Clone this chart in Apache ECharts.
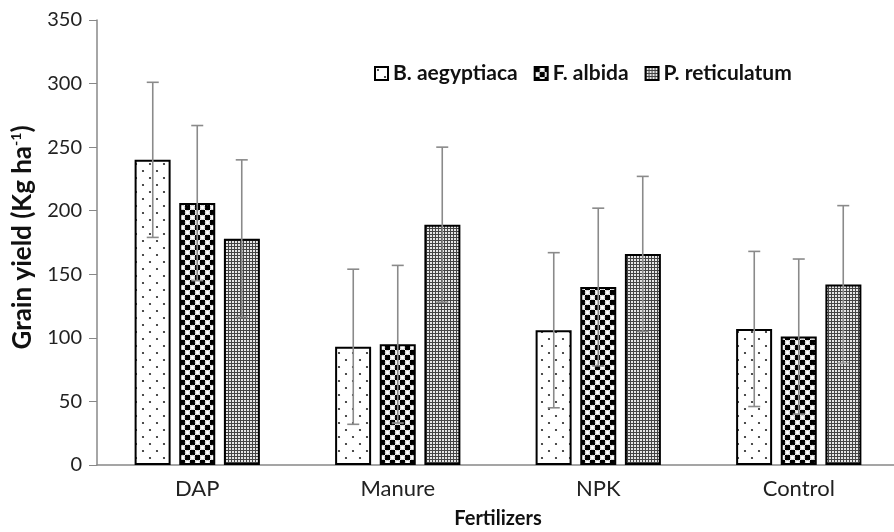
<!DOCTYPE html>
<html><head><meta charset="utf-8">
<script src="https://cdn.jsdelivr.net/npm/echarts@6/dist/echarts.min.js"></script>
<style>html,body{margin:0;padding:0;background:#fff}#c{width:894px;height:532px}</style>
</head><body><div id="c"></div>
<script>
const categories = ['DAP', 'Manure', 'NPK', 'Control'];
const seriesNames = ['B. aegyptiaca', 'F. albida', 'P. reticulatum'];
const bAegyptiaca = [240, 93, 106, 107];
const fAlbida = [206, 95, 140, 101];
const pReticulatum = [178, 189, 166, 142];
const errB = [61, 61, 61, 61];
const errF = [61, 62, 62, 61];
const errP = [62, 61, 61, 62];
const yTicks = [0, 50, 100, 150, 200, 250, 300, 350];

function makePattern(kind) {
  const c = document.createElement('canvas');
  const ctx = c.getContext('2d');
  if (kind === 'dots') {
    c.width = 14; c.height = 14;
    ctx.fillStyle = '#fff'; ctx.fillRect(0, 0, 14, 14);
    ctx.fillStyle = '#222';
    ctx.beginPath(); ctx.arc(3, 3, 1.1, 0, Math.PI * 2); ctx.fill();
    ctx.beginPath(); ctx.arc(10, 10, 1.1, 0, Math.PI * 2); ctx.fill();
  } else if (kind === 'circles') {
    c.width = 10; c.height = 10;
    ctx.fillStyle = '#000'; ctx.fillRect(0, 0, 10, 10);
    ctx.fillStyle = '#fff';
    ctx.fillRect(5, 0, 5, 5); ctx.fillRect(0, 5, 5, 5);
    ctx.fillStyle = '#000';
    ctx.beginPath(); ctx.arc(2.5, 2.5, 2.4, 0, Math.PI * 2); ctx.fill();
    ctx.beginPath(); ctx.arc(7.5, 7.5, 2.4, 0, Math.PI * 2); ctx.fill();
    ctx.strokeStyle = '#bbb'; ctx.lineWidth = 0.8;
    ctx.beginPath(); ctx.arc(7.5, 2.5, 2.2, 0, Math.PI * 2); ctx.stroke();
    ctx.beginPath(); ctx.arc(2.5, 7.5, 2.2, 0, Math.PI * 2); ctx.stroke();
  } else {
    c.width = 3; c.height = 3;
    ctx.fillStyle = '#e6e6e6'; ctx.fillRect(0, 0, 3, 3);
    ctx.fillStyle = '#444';
    ctx.fillRect(0, 0, 3, 1); ctx.fillRect(0, 0, 1, 3);
  }
  return { image: c, repeat: 'repeat' };
}
const patterns = [makePattern('dots'), makePattern('circles'), makePattern('mesh')];

const values = [bAegyptiaca, fAlbida, pReticulatum];
const errs = [errB, errF, errP];
const BAR_W = 36, BAR_STEP = 44.5;

const series = [];
values.forEach((v, i) => {
  series.push({
    name: seriesNames[i], type: 'bar', data: v, barWidth: BAR_W, barGap: '24%',
    itemStyle: { color: patterns[i], borderColor: '#000', borderWidth: 2 },
    z: 2
  });
});
values.forEach((v, i) => {
  series.push({
    type: 'custom', z: 5, silent: true,
    data: v.map((val, k) => [k, val, errs[i][k]]),
    renderItem: function (params, api) {
      const k = api.value(0), val = api.value(1), e = api.value(2);
      const top = api.coord([k, val + e]);
      const bot = api.coord([k, val - e]);
      const x = top[0] + (i - 1) * BAR_STEP;
      const cap = 6;
      const st = { stroke: '#8a8a8a', lineWidth: 1.6 };
      return { type: 'group', children: [
        { type: 'line', shape: { x1: x, y1: top[1], x2: x, y2: bot[1] }, style: st },
        { type: 'line', shape: { x1: x - cap, y1: top[1], x2: x + cap, y2: top[1] }, style: st },
        { type: 'line', shape: { x1: x - cap, y1: bot[1], x2: x + cap, y2: bot[1] }, style: st }
      ]};
    }
  });
});

const chart = echarts.init(document.getElementById('c'));
chart.setOption({
  animation: false,
  textStyle: { fontFamily: 'Lato' },
  grid: { left: 97, top: 20, width: 802, height: 445, containLabel: false, outerBoundsMode: 'none' },
  legend: {
    data: seriesNames, left: 369, top: 58, itemWidth: 13, itemHeight: 13, itemGap: 16,
    icon: 'rect',
    textStyle: { fontSize: 21, fontWeight: 'bold', color: '#111', fontFamily: 'Lato' }
  },
  xAxis: {
    type: 'category', data: categories,
    axisLine: { lineStyle: { color: '#888', width: 1.5 } },
    axisTick: { show: false },
    axisLabel: { fontSize: 22, color: '#222', margin: 13 },
    name: 'Fertilizers', nameLocation: 'middle', nameGap: 44,
    nameTextStyle: { fontSize: 20, fontWeight: 'bold', color: '#111' }
  },
  yAxis: {
    type: 'value', min: yTicks[0], max: yTicks[yTicks.length - 1], interval: 50,
    axisLine: { show: true, lineStyle: { color: '#888', width: 1.5 } },
    axisTick: { show: true, length: 8, lineStyle: { color: '#888' } },
    splitLine: { show: false },
    axisLabel: { fontSize: 20, color: '#222', margin: 15 },
    name: '{a|Grain yield (Kg ha}{s|-1}{a|)}', nameLocation: 'middle', nameGap: 60,
    nameTextStyle: {
      padding: [0, 0, 0, 10],
      rich: {
        a: { fontSize: 26, fontWeight: 'bold', color: '#111', lineHeight: 28, fontFamily: 'Lato' },
        s: { fontSize: 14, fontWeight: 'bold', color: '#111', lineHeight: 28, verticalAlign: 'top', fontFamily: 'Lato' }
      }
    }
  },
  series: series
});
</script>
</body></html>
